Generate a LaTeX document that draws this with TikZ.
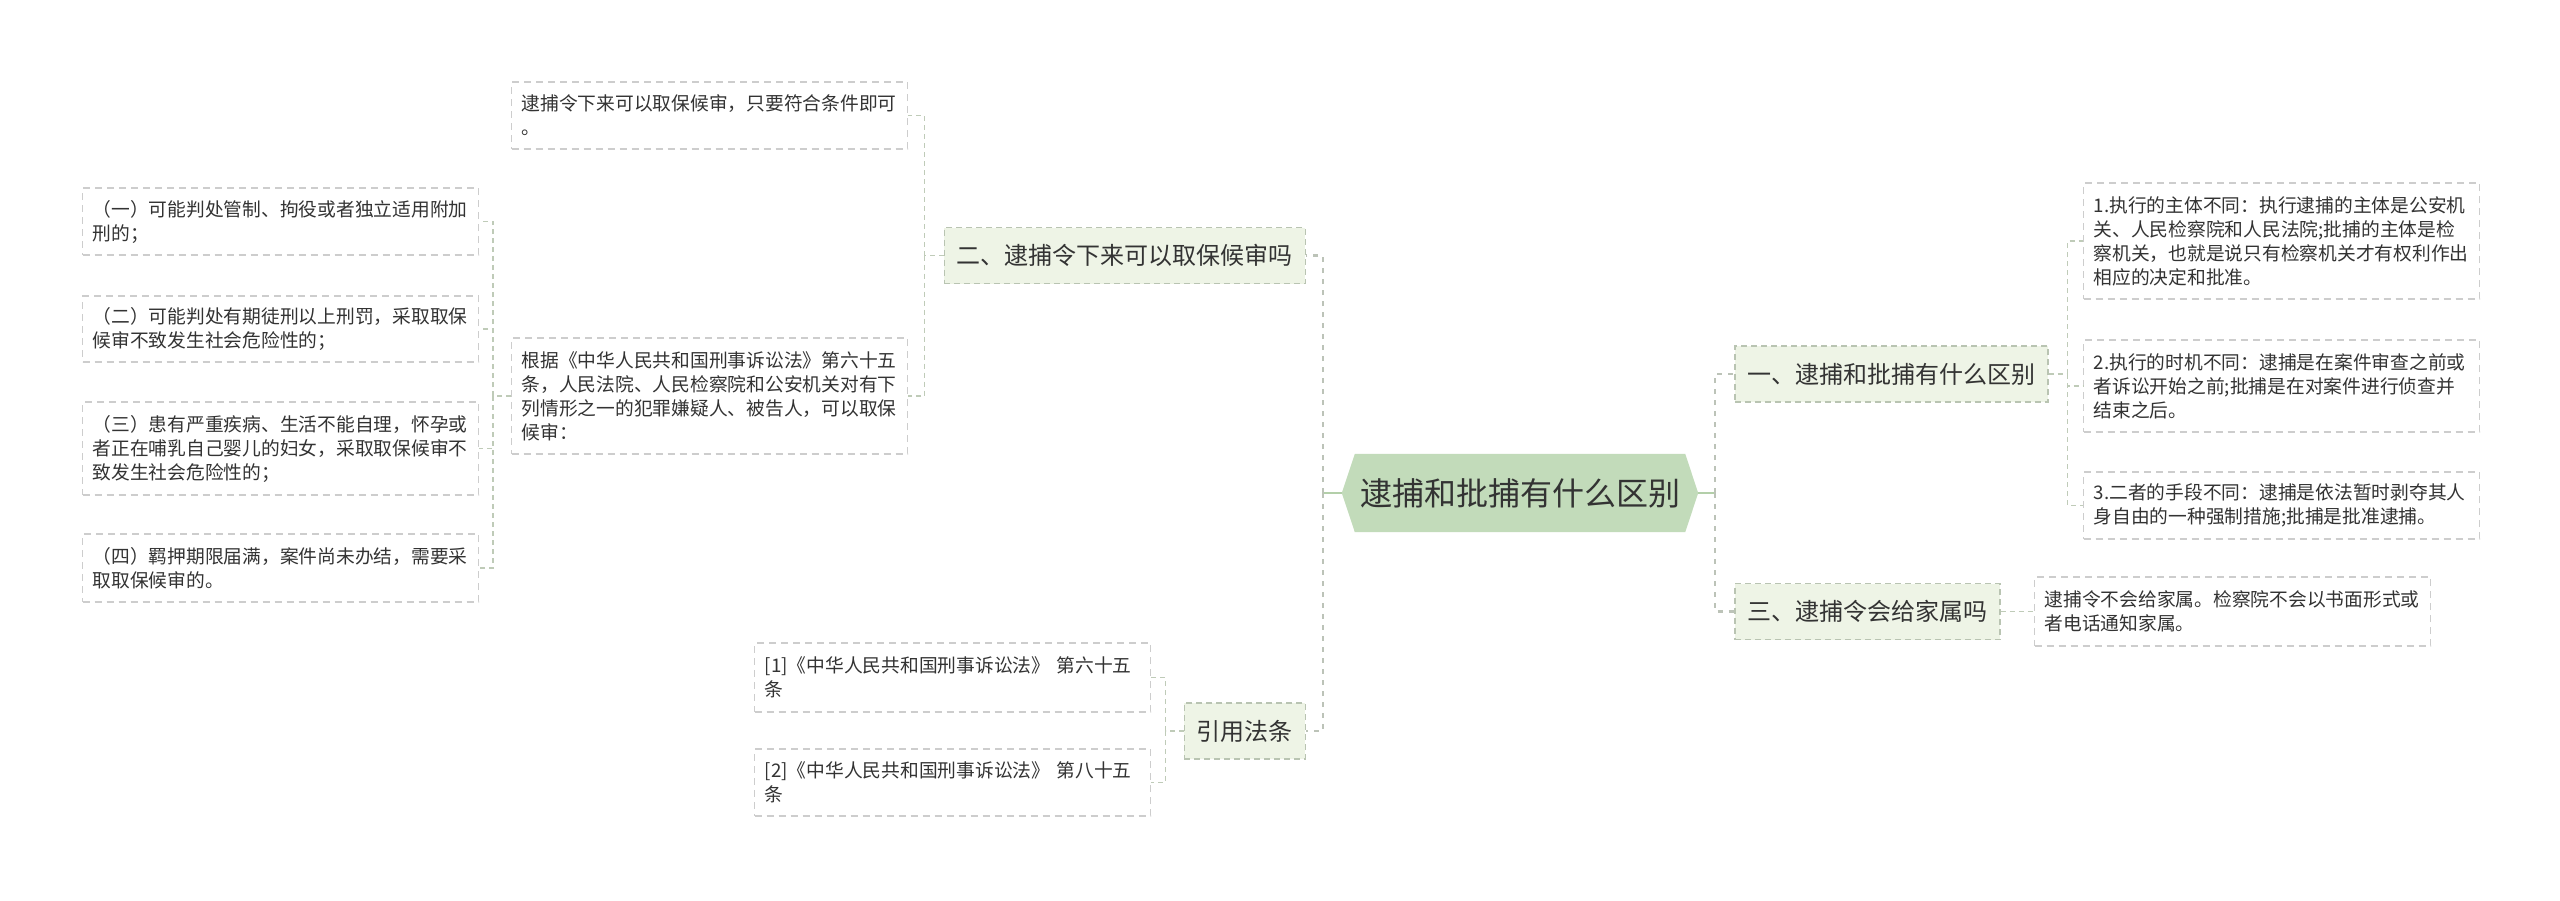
\documentclass[tikz,border=0pt]{standalone}
\usepackage{fontspec}
\setmainfont{Noto Sans CJK SC}
\usetikzlibrary{backgrounds}
\definecolor{rootfill}{HTML}{C2DBBA}
\definecolor{midfill}{HTML}{EEF4E6}
\definecolor{midline}{HTML}{B9C4B2}
\definecolor{leafline}{HTML}{CDCDCD}
\definecolor{linkcol}{HTML}{BFCBB8}
\definecolor{buscol}{HTML}{BCC3B8}
\definecolor{stubcol}{HTML}{B3CFA9}
\definecolor{txt}{HTML}{333333}
\tikzset{
  leaf/.style={draw=leafline, line width=1.4pt, dash pattern=on 7pt off 5pt, fill=white,
    text=txt, inner xsep=10pt, inner ysep=4pt, text width=376pt, align=left,
    font=\fontsize{18.75}{24}\selectfont},
  mid/.style={draw=midline, line width=1.5pt, dash pattern=on 6pt off 4pt, fill=midfill,
    text=txt, inner xsep=12.5pt, inner ysep=4pt, minimum height=56pt,
    font=\fontsize{24}{28}\selectfont},
  rootbox/.style={text=txt, inner sep=0pt, minimum width=330pt, minimum height=78pt,
    font=\fontsize{32}{36}\selectfont},
  link/.style={draw=linkcol, line width=1.5pt, dash pattern=on 5pt off 4pt},
  mainbus/.style={draw=buscol, line width=2.2pt, dash pattern=on 5pt off 6pt},
  stub/.style={draw=stubcol, line width=2.5pt}
}
\begin{document}
\begin{tikzpicture}[x=1pt,y=-1pt]
\useasboundingbox (0,0) rectangle (2560,900);

% root
\node[rootbox] (root) at (1520,493) {逮捕和批捕有什么区别};
\coordinate (rootL) at ([xshift=-13pt]root.west);
\coordinate (rootR) at ([xshift=13pt]root.east);
\begin{scope}[on background layer]
\fill[rootfill] (root.north west) -- (root.north east) -- (rootR) -- (root.south east)
  -- (root.south west) -- (rootL) -- cycle;
\end{scope}

% level 1
\node[mid, anchor=east] (n2) at (1306,255.5) {二、逮捕令下来可以取保候审吗};
\node[mid, anchor=east] (cite) at (1306,731) {引用法条};
\node[mid, anchor=west] (n1) at (1734,374) {一、逮捕和批捕有什么区别};
\node[mid, anchor=west] (n3) at (1734,611.5) {三、逮捕令会给家属吗};

% left leaves
\node[leaf, anchor=west, minimum height=67pt] (a1) at (511,115.5) {逮捕令下来可以取保候审，只要符合条件即可\\。};
\node[leaf, anchor=west, minimum height=116pt] (a2) at (511,396) {根据《中华人民共和国刑事诉讼法》第六十五\\条，人民法院、人民检察院和公安机关对有下\\列情形之一的犯罪嫌疑人、被告人，可以取保\\候审：};
\node[leaf, anchor=west, minimum height=67pt] (b1) at (82,221.5) {（一）可能判处管制、拘役或者独立适用附加\\刑的；};
\node[leaf, anchor=west, minimum height=66pt] (b2) at (82,329) {（二）可能判处有期徒刑以上刑罚，采取取保\\候审不致发生社会危险性的；};
\node[leaf, anchor=west, minimum height=93pt] (b3) at (82,448.5) {（三）患有严重疾病、生活不能自理，怀孕或\\者正在哺乳自己婴儿的妇女，采取取保候审不\\致发生社会危险性的；};
\node[leaf, anchor=west, minimum height=68pt] (b4) at (82,568) {（四）羁押期限届满，案件尚未办结，需要采\\取取保候审的。};
\node[leaf, anchor=west, minimum height=69pt] (c1) at (754,677.5) {[1]《中华人民共和国刑事诉讼法》 第六十五\\条};
\node[leaf, anchor=west, minimum height=67pt] (c2) at (754,782.5) {[2]《中华人民共和国刑事诉讼法》 第八十五\\条};

% right leaves
\node[leaf, anchor=west, minimum height=116pt] (r1) at (2083,241) {1.执行的主体不同：执行逮捕的主体是公安机\\关、人民检察院和人民法院;批捕的主体是检\\察机关，也就是说只有检察机关才有权利作出\\相应的决定和批准。};
\node[leaf, anchor=west, minimum height=92pt] (r2) at (2083,386) {2.执行的时机不同：逮捕是在案件审查之前或\\者诉讼开始之前;批捕是在对案件进行侦查并\\结束之后。};
\node[leaf, anchor=west, minimum height=67pt] (r3) at (2083,505.5) {3.二者的手段不同：逮捕是依法暂时剥夺其人\\身自由的一种强制措施;批捕是批准逮捕。};
\node[leaf, anchor=west, minimum height=69pt] (r4) at (2034,611.5) {逮捕令不会给家属。检察院不会以书面形式或\\者电话通知家属。};

% connectors from root
\coordinate (bL) at ([xshift=-19pt]rootL);
\coordinate (bR) at ([xshift=17pt]rootR);
\draw[stub] (rootL) -- (bL);
\draw[stub] (rootR) -- (bR);
\draw[mainbus] (bL) |- (n2.east);
\draw[mainbus] (bL) |- (cite.east);
\draw[mainbus] (bR) |- (n1.west);
\draw[mainbus] (bR) |- (n3.west);

% n2 children
\coordinate (k2) at ([xshift=-19pt]n2.west);
\draw[link] (n2.west) -- (k2);
\draw[link] (k2) |- (a1.east);
\draw[link] (k2) |- (a2.east);

% a2 children
\coordinate (ka) at ([xshift=-18pt]a2.west);
\draw[link] (a2.west) -- (ka);
\draw[link] (ka) |- (b1.east);
\draw[link] (ka) |- (b2.east);
\draw[link] (ka) |- (b3.east);
\draw[link] (ka) |- (b4.east);

% cite children
\coordinate (kc) at ([xshift=-18pt]cite.west);
\draw[link] (cite.west) -- (kc);
\draw[link] (kc) |- (c1.east);
\draw[link] (kc) |- (c2.east);

% n1 children
\coordinate (k1) at ([xshift=19pt]n1.east);
\draw[link] (n1.east) -- (k1);
\draw[link] (k1) |- (r1.west);
\draw[link] (k1) |- (r2.west);
\draw[link] (k1) |- (r3.west);

% n3 child
\draw[link] (n3.east) -- (r4.west);
\end{tikzpicture}
\end{document}
